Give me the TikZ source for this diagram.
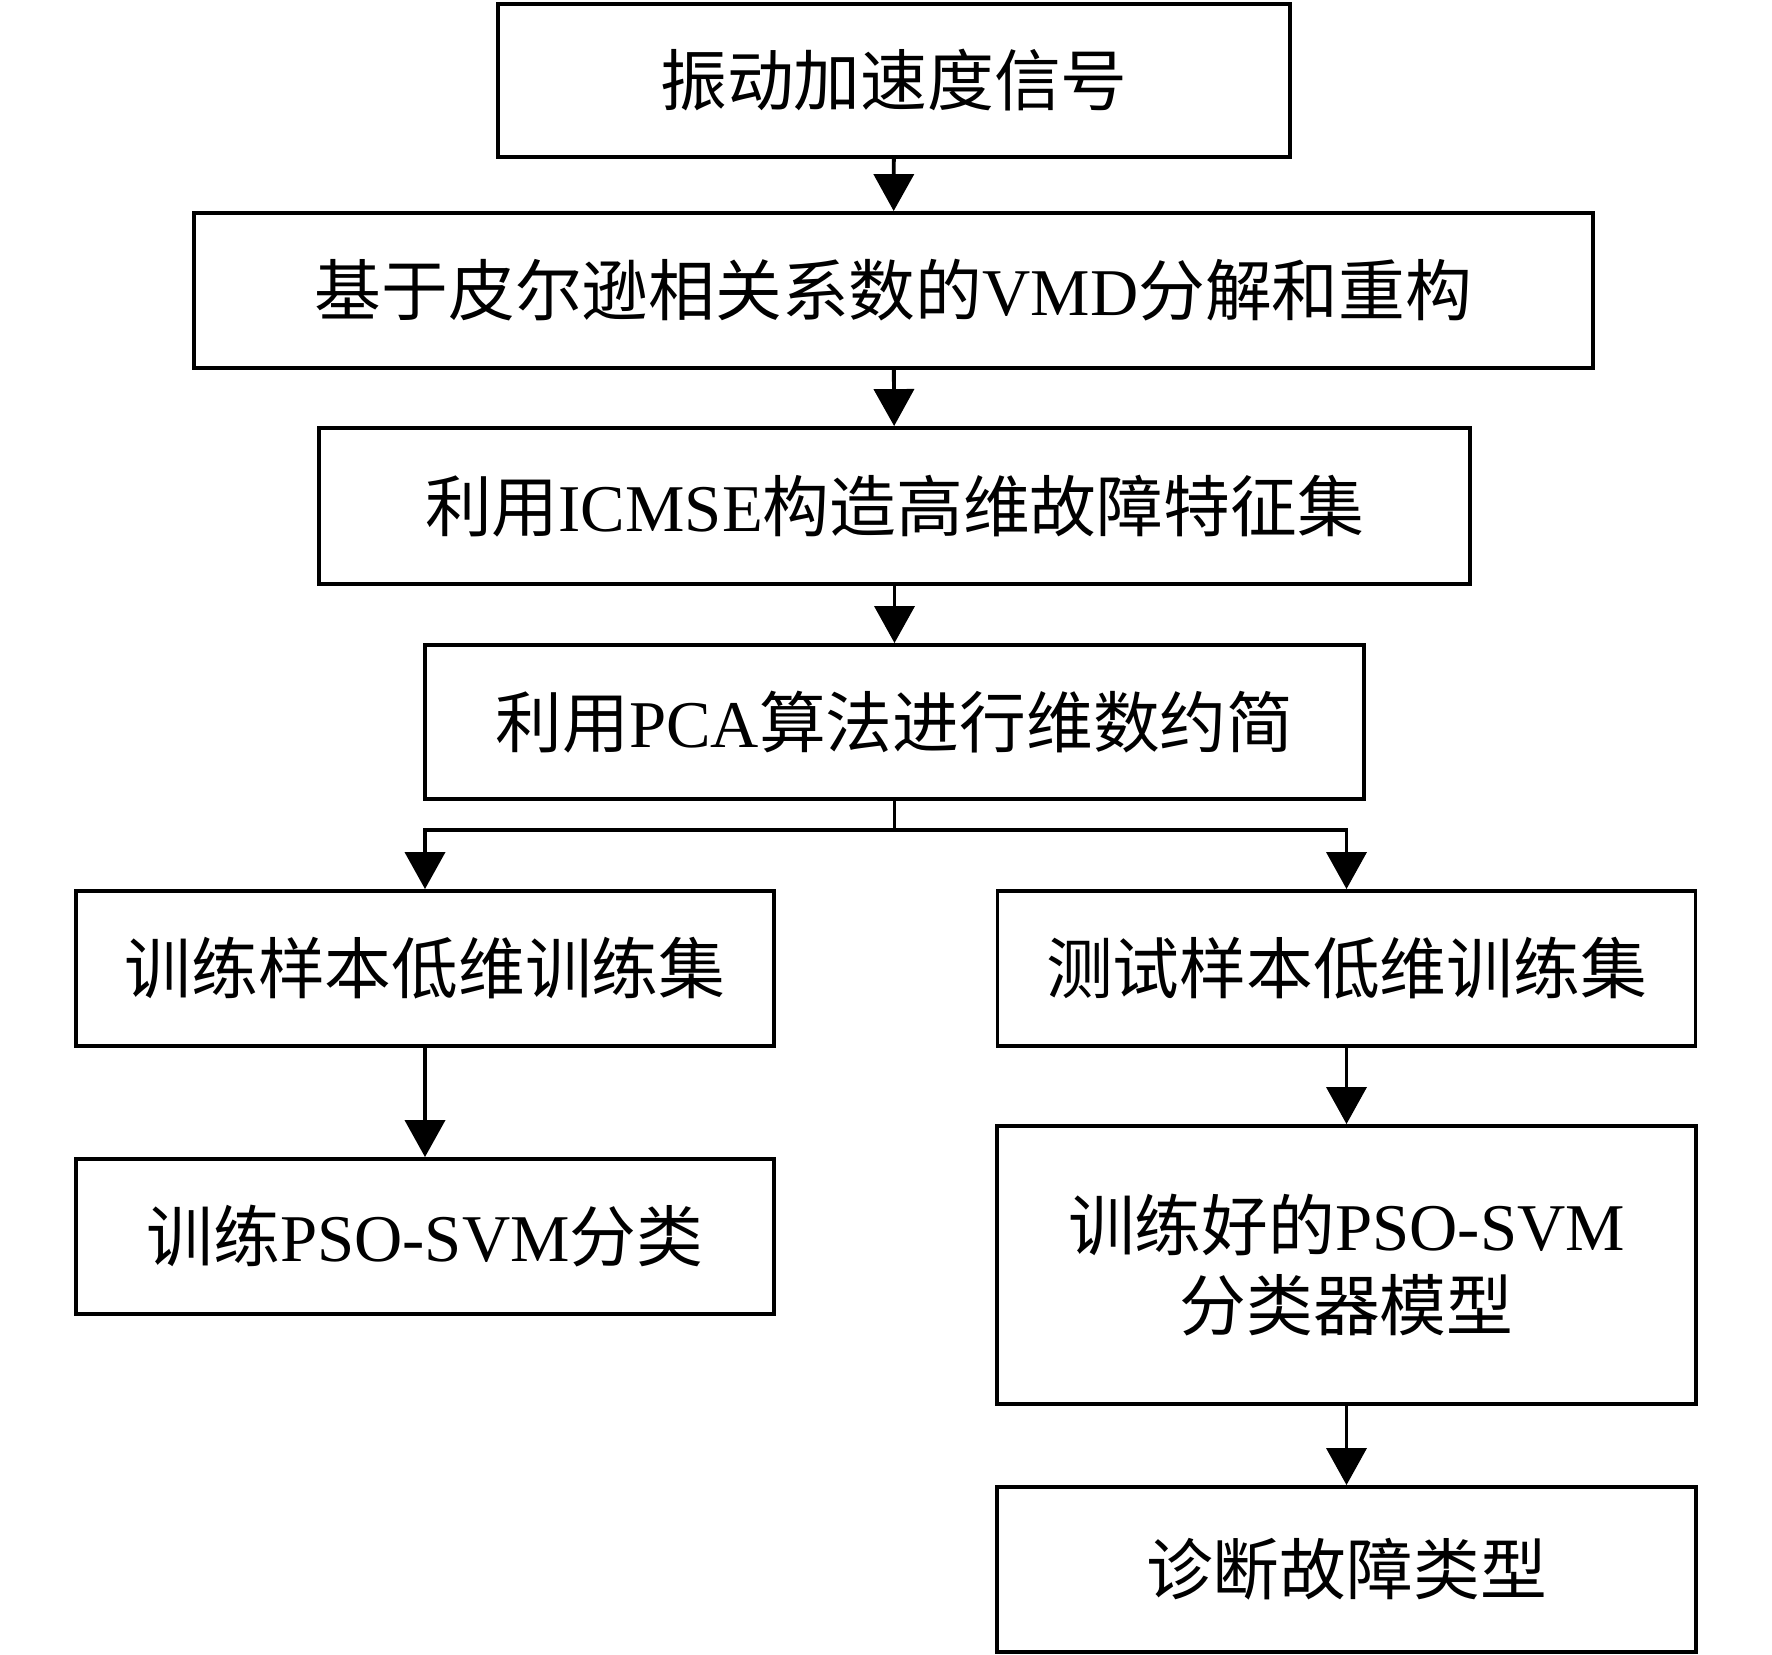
\documentclass[tikz,border=0pt]{standalone}
\usepackage{fontspec}
\setmainfont{Liberation Serif}
\newfontfamily\cjk{Noto Sans CJK SC}
\usepackage{tikz}
\usetikzlibrary{positioning, arrows.meta, calc}
\newcommand{\zh}[1]{{\cjk #1}}

\begin{document}
\begin{tikzpicture}[
    % GLOBAL CFG
    font=\fontsize{19}{22.7}\selectfont,
    >={Triangle[length=3.7mm,width=4mm]},
    line width=1.1pt,
    % Styles
    stage/.style={% For the process boxes
        rectangle,
        draw,
        line width=1.1pt,
        align=center,
        inner sep=0pt,
        },
    wide/.style={minimum width=6.98cm, minimum height=1.55cm},
    ]

    % Fix the page size
    \useasboundingbox (0,0) rectangle (17.72,-16.55);

    % Main chain named by step
    \node [stage, minimum width=7.92cm, minimum height=1.53cm] (sig) at (8.94,-0.805) {\zh{振动加速度信号}};
    \node [stage, minimum width=13.99cm, minimum height=1.55cm] (vmd) at (8.935,-2.905) {\zh{基于皮尔逊相关系数的}VMD\zh{分解和重构}};
    \node [stage, minimum width=11.51cm, minimum height=1.56cm] (fea) at (8.945,-5.06) {\zh{利用}ICMSE\zh{构造高维故障特征集}};
    \node [stage, minimum width=9.39cm, minimum height=1.54cm] (pca) at (8.945,-7.22) {\zh{利用}PCA\zh{算法进行维数约简}};

    % Left branch: training
    \node [stage, wide] (trn) at (4.25,-9.685) {\zh{训练样本低维训练集}};
    \node [stage, wide] (cls) at (4.25,-12.365) {\zh{训练}PSO-SVM\zh{分类}};

    % Right branch: testing
    \node [stage, wide] (tst) at (13.465,-9.685) {\zh{测试样本低维训练集}};
    \node [stage, minimum width=6.99cm, minimum height=2.78cm] (mdl) at (13.465,-12.65) {\zh{训练好的}PSO-SVM\\\zh{分类器模型}};
    \node [stage, minimum width=6.99cm, minimum height=1.65cm] (dia) at (13.465,-15.695) {\zh{诊断故障类型}};

    % Split point under pca
    \coordinate (br) at (8.945,-8.30);

    % Arrows
    \draw [->] (sig) -- (vmd);
    \draw [->] (vmd) -- (fea);
    \draw [->] (fea) -- (pca);
    \draw (pca) -- (br);
    \draw [->] (br) -| (trn);
    \draw [->] (br) -| (tst);
    \draw [->] (trn) -- (cls);
    \draw [->] (tst) -- (mdl);
    \draw [->] (mdl) -- (dia);
\end{tikzpicture}
\end{document}
